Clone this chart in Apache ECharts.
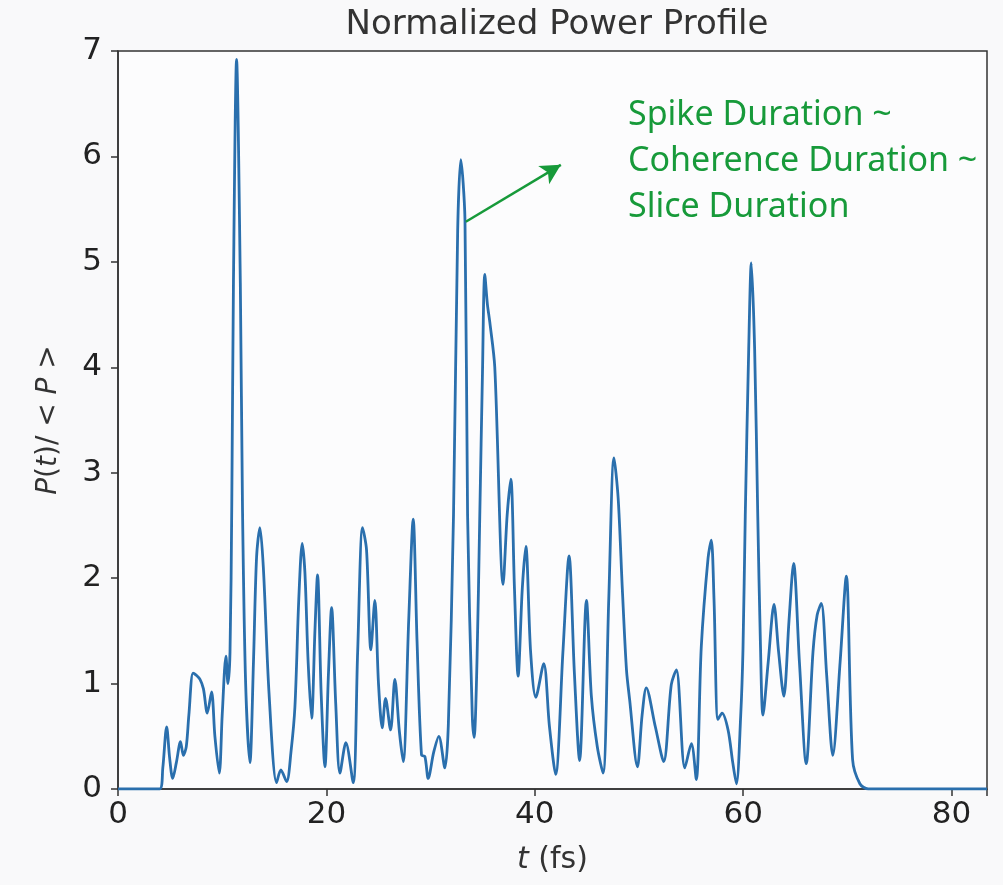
<!DOCTYPE html>
<html>
<head>
<meta charset="utf-8">
<script src="https://cdn.jsdelivr.net/npm/echarts@6/dist/echarts.min.js"></script>
<style>
  html, body { margin: 0; padding: 0; background: #f9f9fa; }
  #chart { width: 1003px; height: 885px; }
</style>
</head>
<body>
<div id="chart"></div>
<script>
// time axis (fs) and normalized power
var timeFs = [
  0, 4.0, 4.3, 4.67, 4.95, 5.25, 5.6, 6.0, 6.27, 6.55, 6.8, 7.2, 7.5, 7.87, 8.2, 8.57, 8.98, 9.3, 9.72, 10.0,
  10.36, 10.55, 10.75, 10.92, 11.08, 11.38, 11.74, 11.95, 12.25, 12.66, 13.0, 13.3, 13.62, 13.95, 14.5,
  15.22, 15.63, 16.18, 16.6, 16.98, 17.35, 17.68, 17.94, 18.25, 18.58, 18.9, 19.15, 19.5, 19.86, 20.2,
  20.5, 20.9, 21.3, 21.87, 22.57, 23.0, 23.47, 23.85, 24.27, 24.65, 25.0, 25.36, 25.68, 26.16, 26.57,
  27.0, 27.37, 27.9, 28.33, 28.7, 29.13, 29.45, 29.77, 30.3, 30.79, 31.37, 31.7, 32.2, 32.6, 32.9,
  33.3, 33.55, 34.0, 34.18, 34.45, 34.72, 34.98, 35.2, 35.45, 35.68, 36.16, 36.96, 37.35, 37.7, 38.05,
  38.4, 38.8, 39.14, 39.6, 40.1, 40.86, 41.4, 42.0, 42.7, 43.29, 43.8, 44.3, 44.96, 45.43, 46.0,
  46.55, 47.1, 47.6, 48.0, 48.4, 48.8, 49.1, 49.85, 50.3, 50.7, 51.57, 52.37, 53.1, 53.59, 54.4,
  55.03, 55.5, 55.98, 56.63, 56.94, 57.2, 57.58, 57.97, 58.55, 59.0, 59.35, 59.76, 59.98, 60.2, 60.53,
  60.78, 61.1, 61.4, 61.65, 61.9, 62.4, 62.96, 63.4, 63.9, 64.4, 64.84, 65.4, 66.05, 66.7, 67.1,
  67.5, 68.0, 68.6, 69.3, 69.9, 70.5, 71.2, 72.0, 83.4
];
var powerNorm = [
  0, 0, 0.2, 0.59, 0.3, 0.10, 0.25, 0.45, 0.32, 0.40, 0.7, 1.10, 1.08, 1.04, 0.95, 0.72, 0.92, 0.5, 0.15, 0.7,
  1.26, 1.0, 1.3, 2.7, 4.8, 6.92, 4.8, 2.65, 1.0, 0.25, 1.2, 2.2, 2.48, 2.1, 0.9,
  0.06, 0.18, 0.07, 0.35, 0.78, 1.8, 2.33, 2.05, 1.2, 0.67, 1.5, 2.03, 0.9, 0.21, 1.1,
  1.72, 0.8, 0.15, 0.44, 0.06, 1.3, 2.48, 2.27, 1.32, 1.79, 1.0, 0.58, 0.86, 0.56, 1.04,
  0.55, 0.26, 1.6, 2.56, 1.4, 0.32, 0.31, 0.10, 0.35, 0.50, 0.20, 0.6, 2.6, 5.3, 5.97,
  5.4, 2.6, 0.7, 0.49, 1.2, 2.59, 3.95, 4.88, 4.6, 4.43, 4.0, 1.94, 2.6, 2.94, 1.9,
  1.07, 1.9, 2.30, 1.3, 0.87, 1.19, 0.6, 0.14, 1.3, 2.21, 1.1, 0.27, 1.79, 0.88, 0.4,
  0.15, 1.8, 3.14, 2.76, 1.9, 1.13, 0.85, 0.21, 0.7, 0.96, 0.59, 0.26, 0.99, 1.13, 0.20,
  0.43, 0.09, 1.35, 2.19, 2.36, 1.8, 0.66, 0.72, 0.56, 0.25, 0.05, 0.69, 1.32, 2.59, 4.17,
  4.99, 4.17, 2.59, 1.4, 0.70, 1.2, 1.75, 1.3, 0.88, 1.6, 2.14, 1.2, 0.24, 1.3, 1.65,
  1.76, 1.1, 0.32, 1.2, 2.02, 0.28, 0.05, 0, 0
];
var xTicks = [0, 20, 40, 60, 80];
var yTicks = [0, 1, 2, 3, 4, 5, 6, 7];
// annotation arrow: from the spike side towards the note
var arrowFrom = [33.38, 5.38];
var arrowTo = [42.5, 5.92];
var noteLines = ['Spike Duration ~', 'Coherence Duration ~', 'Slice Duration'];

var green = '#179a3a';
var chart = echarts.init(document.getElementById('chart'));

var points = timeFs.map(function (t, i) { return [t, powerNorm[i]]; });

chart.setOption({
  animation: false,
  backgroundColor: '#f9f9fa',
  title: {
    text: 'Normalized Power Profile',
    left: 552,
    textAlign: 'center',
    top: 3,
    textStyle: { fontFamily: 'DejaVu Sans', fontSize: 34, fontWeight: 'normal', color: '#333' }
  },
  grid: {
    left: 118, right: 16, top: 51, bottom: 96,
    show: true, borderColor: '#333', borderWidth: 1.5, backgroundColor: '#fcfcfd'
  },
  xAxis: {
    type: 'value', min: 0, max: 83.4, interval: 20,
    name: '{i|t} (fs)', nameLocation: 'middle', nameGap: 56,
    nameTextStyle: {
      fontFamily: 'DejaVu Sans', fontSize: 30, color: '#333',
      rich: { i: { fontFamily: 'DejaVu Sans', fontStyle: 'italic', fontSize: 30, color: '#333' } }
    },
    axisLine: { show: true, lineStyle: { color: '#333', width: 1.5 } },
    axisTick: { show: true, inside: false, length: 7, lineStyle: { color: '#333', width: 1.5 } },
    axisLabel: {
      fontFamily: 'DejaVu Sans', fontSize: 31, color: '#222', margin: 10,
      formatter: function (v) { return xTicks.indexOf(v) >= 0 ? String(v) : ''; }
    },
    splitLine: { show: false }
  },
  yAxis: {
    type: 'value', min: 0, max: 7, interval: 1,
    name: '{i|P}({i|t})/ < {i|P} >', nameLocation: 'middle', nameGap: 55, nameRotate: 90,
    nameTextStyle: {
      fontFamily: 'DejaVu Sans', fontSize: 28, color: '#333',
      rich: { i: { fontFamily: 'DejaVu Sans', fontStyle: 'italic', fontSize: 28, color: '#333' } }
    },
    axisLine: { show: true, lineStyle: { color: '#333', width: 1.5 } },
    axisTick: { show: true, inside: false, length: 7, lineStyle: { color: '#333', width: 1.5 } },
    axisLabel: {
      fontFamily: 'DejaVu Sans', fontSize: 31, color: '#222', margin: 16,
      formatter: function (v) { return yTicks.indexOf(v) >= 0 ? String(v) : ''; }
    },
    splitLine: { show: false }
  },
  series: [{
    type: 'line',
    data: points,
    showSymbol: false,
    smooth: 0.3,
    lineStyle: { color: '#2a6fad', width: 2.8 },
    markLine: {
      silent: true,
      symbol: ['none', 'arrow'],
      symbolSize: [16, 20],
      label: { show: false },
      lineStyle: { color: green, width: 2.5, type: 'solid' },
      data: [[{ coord: arrowFrom }, { coord: arrowTo }]]
    }
  }],
  graphic: [{
    type: 'text',
    left: 628,
    top: 92,
    style: {
      text: noteLines.join('\n'),
      fill: green,
      font: '34px "Noto Sans"',
      lineHeight: 46
    }
  }]
});
</script>
</body>
</html>
